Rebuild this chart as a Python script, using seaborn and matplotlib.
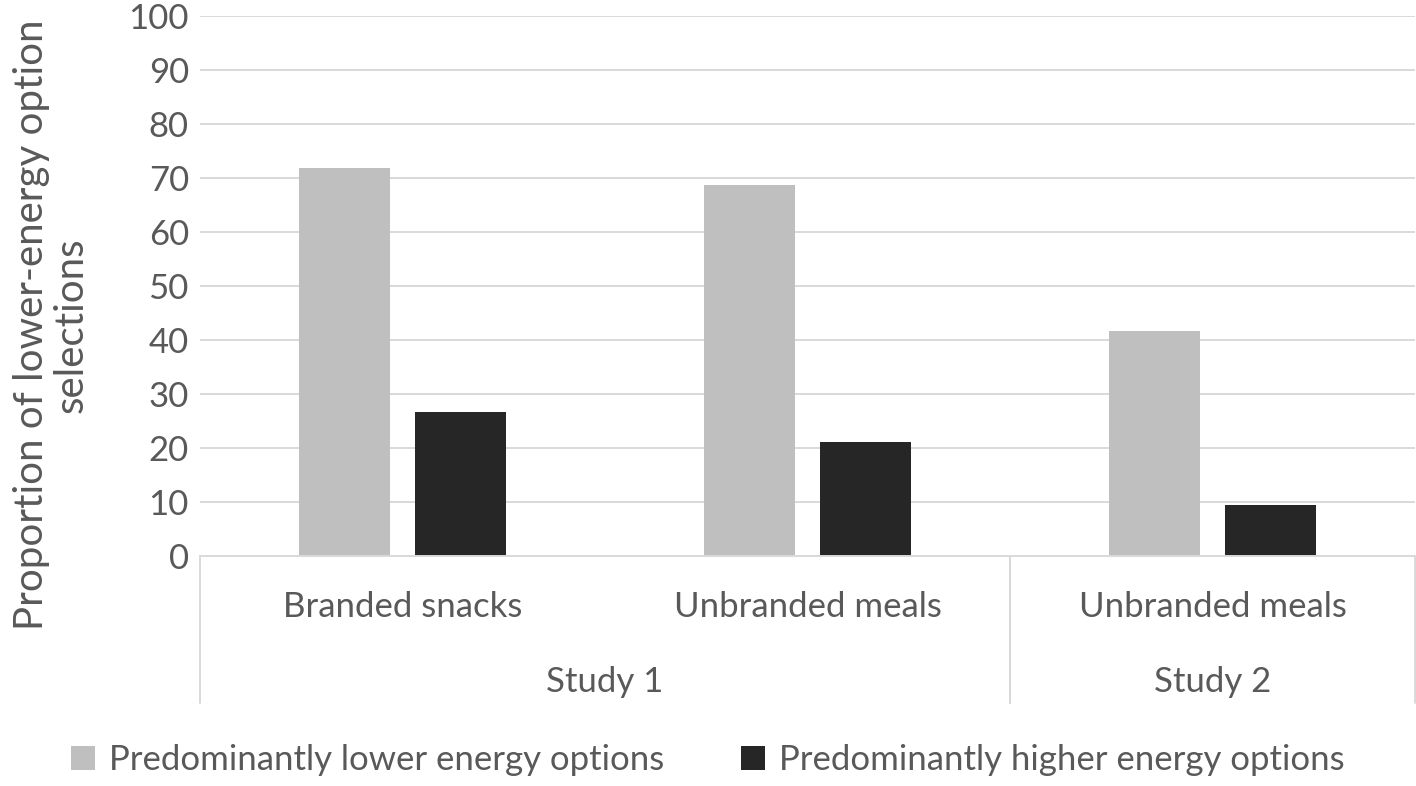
import pandas as pd
import matplotlib
matplotlib.use("Agg")
import matplotlib.pyplot as plt
import matplotlib.transforms as mtransforms
import seaborn as sns

# ── Datos ───────────────────────────────────────────────────────────
studies    = ["Study 1", "Study 1", "Study 2"]
categories = ["Branded snacks", "Unbranded meals", "Unbranded meals"]
series     = ["Predominantly lower energy options",
              "Predominantly higher energy options"]
lower_vals  = [71.9, 68.7, 41.7]
higher_vals = [26.6, 21.2, 9.4]
yticks = [0, 10, 20, 30, 40, 50, 60, 70, 80, 90, 100]

keys = [f"{s} | {c}" for s, c in zip(studies, categories)]
df = pd.DataFrame({
    "key":    keys * 2,
    "series": [series[0]] * 3 + [series[1]] * 3,
    "value":  lower_vals + higher_vals,
})

# ── Estilo ──────────────────────────────────────────────────────────
TEXT = "#595959"
GRID = "#D9D9D9"
FS = 25
sns.set_style("white")
plt.rcParams["font.family"] = ["Lato", "DejaVu Sans"]

fig = plt.figure(figsize=(14.16, 7.86), dpi=100)
ax = fig.add_axes([200 / 1416, 1 - 556 / 786, 1215 / 1416, 540 / 786])

sns.barplot(data=df, x="key", y="value", hue="series", order=keys,
            hue_order=series, palette=["#BFBFBF", "#262626"],
            width=0.573, gap=0.224, linewidth=0, ax=ax, legend=True)

ax.set_xlim(-0.5, 2.5)
ax.set_ylim(0, 100)
ax.set_yticks(yticks)
ax.yaxis.grid(True, color=GRID, linewidth=1.4)
ax.set_axisbelow(True)
for side in ["top", "right", "left"]:
    ax.spines[side].set_visible(False)
ax.spines["bottom"].set_color(GRID)
ax.spines["bottom"].set_linewidth(1.4)
ax.tick_params(axis="y", length=0, pad=8, labelsize=FS, labelcolor=TEXT)
ax.tick_params(axis="x", length=0, labelbottom=False)
ax.set_xlabel("")
ax.set_ylabel("Proportion of lower-energy option\nselections",
              fontsize=29, color=TEXT, linespacing=1.1)
ax.yaxis.set_label_coords(-0.0905, 0.428)

# ── Eje de categorías multinivel ───────────────────────────────────
trans = mtransforms.blended_transform_factory(ax.transData, ax.transAxes)
for i, c in enumerate(categories):
    ax.text(i, -0.094, c, transform=trans, ha="center", va="center",
            fontsize=FS, color=TEXT)
study_names = list(dict.fromkeys(studies))
for s in study_names:
    idx = [i for i, v in enumerate(studies) if v == s]
    ax.text((idx[0] + idx[-1]) / 2, -0.233, s, transform=trans,
            ha="center", va="center", fontsize=FS, color=TEXT)
    for xb in (idx[0] - 0.5, idx[-1] + 0.5):
        ax.plot([xb, xb], [0, -0.272], transform=trans, color=GRID,
                linewidth=1.4, clip_on=False)

# ── Leyenda ─────────────────────────────────────────────────────────
handles, labels = ax.get_legend_handles_labels()
ax.get_legend().remove()
leg = fig.legend(handles, labels, loc="center", ncol=2,
                 bbox_to_anchor=(0.5, 1 - 760 / 786), frameon=False,
                 fontsize=FS, handlelength=0.7, handleheight=0.7,
                 handletextpad=0.4, columnspacing=2.2)
for t in leg.get_texts():
    t.set_color(TEXT)

fig.savefig("out.png", dpi=100, facecolor="white")
